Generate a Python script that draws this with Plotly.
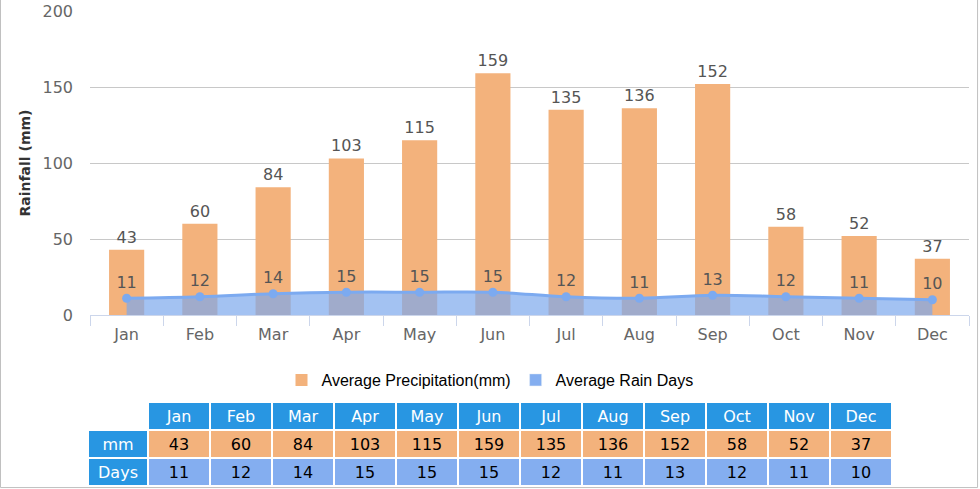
import plotly.graph_objects as go

# monthly rainfall data
months = ["Jan", "Feb", "Mar", "Apr", "May", "Jun",
          "Jul", "Aug", "Sep", "Oct", "Nov", "Dec"]
rain_mm = [43, 60, 84, 103, 115, 159, 135, 136, 152, 58, 52, 37]
rain_days = [11, 12, 14, 15, 15, 15, 12, 11, 13, 12, 11, 10]

orange = "#f3b27c"
blue = "#84aef0"
head_blue = "#2896e2"
label_font = dict(family="DejaVu Sans", size=16, color="#555555")

W, H = 980, 489

fig = go.Figure()

# bars for precipitation
fig.add_trace(go.Bar(
    x=months, y=rain_mm,
    width=0.48,
    marker=dict(color=orange, line_width=0),
    text=rain_mm, textposition="outside",
    textfont=label_font, cliponaxis=False,
    name="Average Precipitation(mm)",
))

# rain days area, drawn on top of the bars
fig.add_trace(go.Scatter(
    x=months, y=rain_days,
    mode="lines+markers+text",
    line=dict(color="#7caaf0", width=3, shape="spline"),
    marker=dict(color="#7caaf0", size=9),
    fill="tozeroy", fillcolor="rgba(124,168,236,0.7)",
    text=rain_days, textposition="top center",
    textfont=label_font, cliponaxis=False,
    showlegend=False,
))

# legend entry for the rain days (square swatch like the bars)
fig.add_trace(go.Bar(
    x=[None], y=[None],
    marker_color=blue,
    name="Average Rain Days",
))

# data table under the chart
col_values = [["mm", "Days"]] + [[m, d] for m, d in zip(rain_mm, rain_days)]
fig.add_trace(go.Table(
    domain=dict(x=[88 / W, 892 / W], y=[(H - 487) / H, (H - 402) / H]),
    columnwidth=[60] + [62] * 12,
    header=dict(
        values=[""] + months,
        fill_color=["white"] + [head_blue] * 12,
        line=dict(color="white", width=2),
        font=dict(family="DejaVu Sans", size=16, color="white"),
        align="center", height=28,
    ),
    cells=dict(
        values=col_values,
        fill_color=[[head_blue, head_blue]] + [[orange, blue]] * 12,
        line=dict(color="white", width=2),
        font=dict(family="DejaVu Sans", size=16,
                  color=[["white", "white"]] + [["black", "black"]] * 12),
        align="center", height=28,
    ),
))

fig.update_layout(
    width=W, height=H,
    margin=dict(l=0, r=0, t=0, b=0),
    plot_bgcolor="white", paper_bgcolor="white",
    barmode="overlay",
    font=dict(family="DejaVu Sans", size=16, color="#666666"),
    legend=dict(
        orientation="h",
        x=0.5, xanchor="center", y=1 - 380 / H, yanchor="middle",
        font=dict(family="Liberation Sans", size=16, color="#000000"),
    ),
    xaxis=dict(
        domain=[90 / W, 969 / W], automargin=False,
        tickson="boundaries", ticks="outside", ticklen=10,
        tickcolor="#ccd6eb", showline=True, linecolor="#ccd6eb",
        showgrid=False, ticklabelstandoff=5,
        tickfont=dict(color="#666666", size=16),
    ),
    yaxis=dict(
        domain=[(H - 315) / H, (H - 11) / H], automargin=False,
        range=[0, 200], dtick=50, gridcolor="#c8c8c8",
        zeroline=False, ticklabelstandoff=16,
        tickfont=dict(color="#666666", size=16),
        title=dict(text="<b>Rainfall (mm)</b>", standoff=8,
                   font=dict(family="DejaVu Sans", size=14, color="#333333")),
    ),
    # thin frame on the left, bottom and right of the chart
    shapes=[dict(type="path", xref="paper", yref="paper",
                 path="M 0.0005,1 L 0.0005,0.003 L 0.9975,0.003 L 0.9975,1",
                 line=dict(color="#c0c0c0", width=1))],
)

# no page margin, so the graph starts at the top-left corner
fig.write_html("out.html", config={"displayModeBar": False},
               post_script="document.body.style.margin='0';")
